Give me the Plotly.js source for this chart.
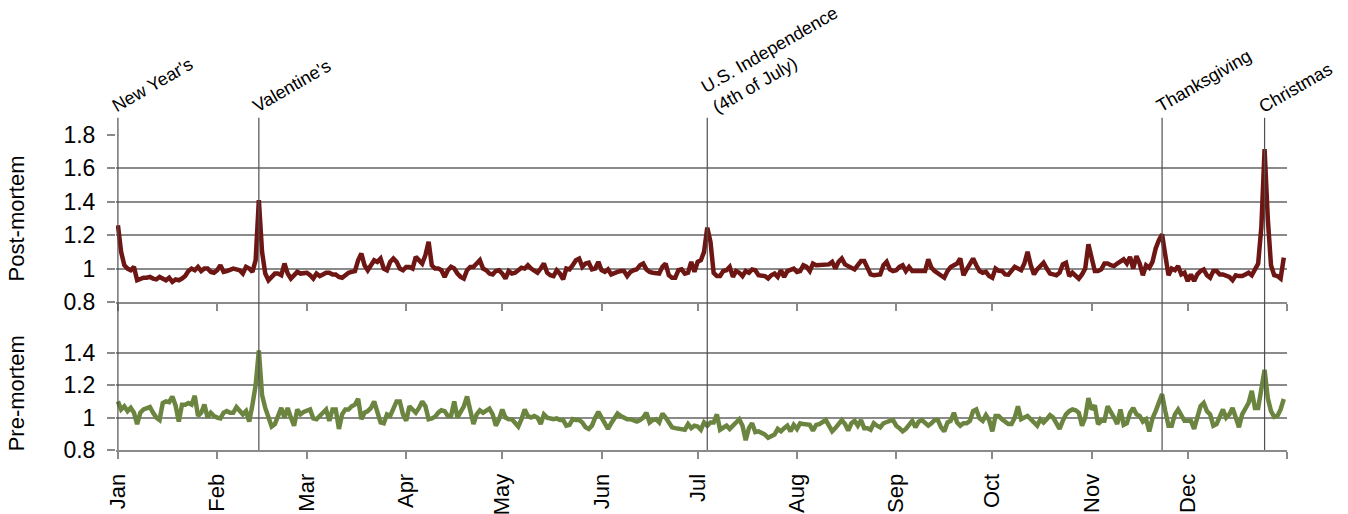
<!DOCTYPE html>
<html>
<head>
<meta charset="utf-8">
<script src="https://cdn.plot.ly/plotly-3.0.1.min.js"></script>
<style>
  html, body { margin: 0; padding: 0; background: #fff; }
  #chart { width: 1348px; height: 514px; }
</style>
</head>
<body>
<div id="chart"></div>
<script>
// ---- Data (daily ratio, day 0 = Jan 1) ----
const postMortem = [
  1.26, 1.10, 1.02, 1.00, 0.99, 1.01, 0.93, 0.94, 0.945, 0.945,
  0.95, 0.94, 0.935, 0.95, 0.94, 0.93, 0.945, 0.92, 0.935, 0.93,
  0.94, 0.955, 0.985, 1.00, 0.99, 1.01, 0.985, 1.00, 1.00, 0.98,
  0.975, 0.99, 1.02, 0.98, 0.985, 0.995, 1.00, 0.995, 0.99, 0.97,
  1.01, 1.00, 0.98, 1.05, 1.41, 1.10, 0.97, 0.93, 0.95, 0.97,
  0.97, 0.96, 1.03, 0.97, 0.94, 0.96, 0.98, 0.97, 0.97, 0.975,
  0.96, 0.94, 0.97, 0.955, 0.965, 0.975, 0.975, 0.965, 0.965, 0.95,
  0.945, 0.96, 0.975, 0.98, 0.985, 1.05, 1.09, 1.02, 0.99, 1.02,
  1.05, 1.04, 1.06, 1.00, 0.99, 1.04, 1.06, 1.04,
  1.00, 0.99, 1.01, 1.01, 1.00, 1.07, 1.05, 1.03, 1.08, 1.16, 1.02, 1.00,
  1.00, 0.99, 0.95, 0.99, 1.01, 1.00, 0.97, 0.95, 0.94, 0.99,
  1.01, 1.01, 1.03, 1.05, 1.00, 0.99, 0.97, 0.965, 0.985, 0.99,
  0.97, 0.94, 0.985, 0.97, 0.975, 0.99, 1.005, 1.00, 1.02, 1.00,
  0.99, 0.975, 1.00, 1.03, 0.975, 0.96, 0.955, 0.99, 0.97, 0.935,
  1.00, 0.995, 1.02, 1.05, 1.06, 1.01, 1.03, 1.035, 0.995, 1.00,
  1.04, 0.99, 0.98, 0.995, 0.965, 0.975, 0.98, 0.985, 0.985, 0.955,
  0.98, 0.99, 0.995, 1.02, 1.03, 0.995, 0.98, 0.975, 0.975, 0.97,
  1.01, 1.03, 0.96, 0.945, 0.945, 0.99, 0.995, 0.97, 0.975, 1.04,
  0.98, 1.04, 1.05, 1.10, 1.245, 1.16,
  0.974, 0.955, 0.955, 0.985,
  0.99, 1.01, 0.95, 0.985, 0.975, 0.955, 0.985, 0.975, 0.995, 0.99,
  0.96, 0.955, 0.955, 0.94, 0.96, 0.97, 0.95, 0.99, 0.95, 0.985,
  0.995, 1.00, 0.98, 0.985, 1.02, 1.01, 0.985, 1.03, 1.02, 1.02,
  1.02, 1.02, 1.025, 1.04, 1.00, 1.04, 1.06, 1.025, 1.015, 1.01,
  0.995, 1.02, 1.045, 1.045, 1.00, 0.965, 0.96, 0.96, 0.965, 1.02,
  1.04, 0.995, 0.985, 0.99, 1.01, 1.02, 0.985, 1.01, 0.985, 0.985,
  0.985, 0.985, 0.985, 1.055, 1.005, 0.985, 0.97, 0.955, 0.945, 0.985,
  1.01, 1.02, 1.03, 1.06, 0.96, 0.995, 1.03, 1.06, 1.02, 0.985,
  0.975, 0.98, 0.955, 0.945, 1.00,
  0.986, 0.985, 0.965, 0.963, 0.99,
  1.01, 1.00, 0.99, 1.03, 1.10, 1.02, 0.965, 0.995, 1.02, 1.035,
  1.00, 0.97, 0.965, 0.96, 0.975, 1.025, 1.035, 0.955, 0.975, 0.96,
  0.94, 0.965, 1.00, 1.145, 1.05, 0.985, 0.985, 0.995, 1.03, 1.03,
  1.02, 1.015, 1.03, 1.04, 1.055, 1.03, 1.07, 1.00, 1.075, 1.03,
  0.96, 1.02, 1.005, 1.04, 1.12, 1.17, 1.205, 1.08, 0.96, 1.00,
  0.99, 1.015, 0.965, 0.975, 0.925, 0.965, 0.925, 0.965, 0.985, 0.995,
  0.96, 0.945, 0.985, 0.985, 0.965, 0.965, 0.955, 0.95, 0.93, 0.96,
  0.955, 0.955, 0.965, 0.975, 0.96, 0.99, 1.03, 1.25, 1.715, 1.30,
  1.02, 0.96, 0.955, 0.94, 1.065
];

const preMortem = [
  1.10, 1.05, 1.07, 1.04, 1.06, 1.03, 0.96, 1.03, 1.05, 1.055,
  1.065, 1.03, 1.00, 0.985, 1.09, 1.10, 1.095, 1.13, 1.075, 0.975,
  1.08, 1.08, 1.09, 1.08, 1.135, 1.01, 1.03, 1.08, 1.00, 1.03,
  1.01, 1.00, 0.995, 1.03, 1.04, 1.03, 1.03, 1.065, 1.04, 1.02,
  1.04, 0.975, 1.08, 1.20, 1.415, 1.14, 1.06, 0.995, 0.945, 0.96,
  1.02, 1.06, 1.00, 1.06, 1.00, 0.95, 1.05, 1.02, 1.035, 1.04,
  1.05, 0.995, 0.99, 1.01, 1.03, 1.05, 0.98, 1.05, 1.05, 0.93,
  1.02, 1.05, 1.05, 1.07, 1.08, 1.115, 0.99, 1.03, 1.04, 1.06,
  1.10, 1.03, 0.97, 0.965, 1.02, 1.01, 1.05, 1.10,
  1.10, 1.02, 0.98, 1.07, 1.05, 1.03, 1.06, 1.10, 1.07, 0.99, 0.995, 1.005,
  1.03, 1.045, 1.04, 1.01, 1.01, 1.10, 1.00, 1.04, 1.07, 1.13,
  1.04, 0.96, 1.02, 1.045, 1.03, 1.045, 1.055, 1.02, 0.95, 0.99,
  1.05, 1.00, 0.99, 0.99, 0.97, 0.945, 0.99, 1.05, 1.01, 1.00,
  1.01, 1.00, 0.96, 1.02, 1.00, 0.995, 0.99, 0.995, 0.985, 0.985,
  0.95, 0.955, 0.99, 0.985, 0.985, 0.97, 0.94, 0.93, 0.95, 1.00,
  1.035, 1.00, 0.97, 0.93, 0.965, 0.99, 1.025, 1.01, 1.00, 0.99,
  0.99, 0.98, 0.975, 0.985, 1.00, 1.03, 0.97, 0.985, 0.99, 0.97,
  1.025, 1.00, 0.97, 0.94, 0.935, 0.93, 0.93, 0.925, 0.96, 0.935,
  0.95, 0.945, 0.925, 0.97, 0.95, 0.97,
  0.97, 1.02, 0.925, 0.94,
  0.95, 0.93, 0.955, 0.97, 0.99, 0.95, 0.86, 0.935, 0.965, 0.91,
  0.915, 0.905, 0.895, 0.875, 0.885, 0.895, 0.93, 0.915, 0.935, 0.95,
  0.915, 0.955, 0.93, 0.965, 0.96, 0.955, 0.955, 0.92, 0.955, 0.96,
  0.97, 0.985, 0.95, 0.915, 0.935, 0.965, 0.985, 0.96, 0.92, 0.965,
  0.98, 0.95, 0.985, 0.935, 0.935, 0.925, 0.965, 0.95, 0.94, 0.965,
  0.975, 0.98, 0.985, 0.95, 0.935, 0.915, 0.93, 0.955, 0.98, 0.94,
  0.975, 0.985, 0.965, 0.95, 0.965, 0.985, 0.985, 0.94, 0.915, 0.97,
  0.98, 1.03, 0.97, 0.95, 0.965, 0.965, 0.98, 1.04, 1.05, 0.995,
  0.98, 1.015, 0.985, 0.915, 1.01,
  1.01, 0.99, 0.975, 0.96, 0.96,
  1.00, 1.07, 0.99, 1.00, 1.01, 0.99, 0.97, 0.95, 0.99, 0.97,
  0.99, 1.015, 1.00, 0.96, 0.93, 0.98, 1.02, 1.04, 1.05, 1.045,
  1.03, 0.95, 1.00, 1.12, 1.05, 1.075, 0.96, 0.98, 0.98, 1.07,
  1.04, 1.00, 0.96, 1.05, 0.955, 0.965, 1.03, 1.06, 1.02, 1.01,
  0.975, 0.99, 0.915, 0.995, 1.04, 1.10, 1.145, 1.04, 0.95, 0.95,
  1.02, 1.05, 1.02, 0.98, 0.98, 0.98, 0.93, 1.01, 1.07, 1.09,
  1.04, 1.02, 0.95, 0.96, 1.01, 1.05, 1.00, 1.02, 1.06, 0.99,
  0.94, 1.02, 1.05, 1.09, 1.165, 1.06, 1.06, 1.18, 1.295, 1.12,
  1.04, 1.005, 1.01, 1.05, 1.115
];

const monthLabels = ['Jan','Feb','Mar','Apr','May','Jun','Jul','Aug','Sep','Oct','Nov','Dec',''];
const monthStartDays = [0, 31, 59, 90, 120, 151, 181, 212, 243, 273, 304, 334, 365];

const holidayNames = ["New Year's", "Valentine's", "U.S. Independence<br>(4th of July)", "Thanksgiving", "Christmas"];
const holidayDays = [0, 44, 184, 326, 358];

const postTicks = [0.8, 1, 1.2, 1.4, 1.6, 1.8];
const preTicks = [0.8, 1, 1.2, 1.4];

// ---- Build chart ----
const days = postMortem.map((v, i) => i);
const FONT = 'Liberation Sans, Arial, sans-serif';
const GRID = '#8a8a8a';
const VLINE = '#505050';

const traces = [
  { x: days, y: postMortem, xaxis: 'x', yaxis: 'y', type: 'scatter', mode: 'lines',
    line: { color: '#6e1613', width: 4.5 }, hoverinfo: 'skip', showlegend: false },
  { x: days, y: preMortem, xaxis: 'x2', yaxis: 'y2', type: 'scatter', mode: 'lines',
    line: { color: '#6b8540', width: 4.5 }, hoverinfo: 'skip', showlegend: false }
];

const xCommon = {
  range: [-0.6, 365], tickmode: 'array', tickvals: monthStartDays,
  ticks: 'outside', ticklen: 7, tickwidth: 2, tickcolor: GRID,
  showgrid: false, zeroline: false, showline: true, linecolor: GRID, linewidth: 2,
  fixedrange: true
};

const yCommon = {
  ticks: 'outside', ticklen: 8, tickwidth: 2, tickcolor: GRID,
  showgrid: true, gridcolor: GRID, gridwidth: 2, zeroline: false, showline: false,
  tickfont: { family: FONT, size: 23, color: '#000' }, ticklabelstandoff: 7,
  tickmode: 'array', fixedrange: true
};

const shapes = holidayDays.map(d => ({
  type: 'line', xref: 'x', yref: 'paper', x0: d, x1: d, y0: 0, y1: 1.055,
  line: { color: VLINE, width: 1.2 }, layer: 'above'
}));

const annotations = holidayNames.map((name, k) => ({
  xref: 'x', yref: 'paper', x: holidayDays[k], y: 1.05,
  text: name, showarrow: false, textangle: -30, align: 'left',
  xanchor: 'left', yanchor: 'bottom', xshift: -12,
  font: { family: FONT, size: 18, color: '#000' }
}));

const layout = {
  width: 1348, height: 514,
  margin: { l: 116, r: 61, t: 135, b: 64 },
  paper_bgcolor: '#fff', plot_bgcolor: 'rgba(0,0,0,0)',
  showlegend: false,
  xaxis: Object.assign({}, xCommon, { anchor: 'y', showticklabels: false }),
  xaxis2: Object.assign({}, xCommon, { anchor: 'y2', matches: 'x', ticktext: monthLabels,
    tickangle: -90, ticklabelstandoff: 6, tickfont: { family: FONT, size: 22, color: '#000' } }),
  yaxis: Object.assign({}, yCommon, { domain: [0.47, 1], range: [0.8, 1.8], tickvals: postTicks,
    title: { text: 'Post-mortem', font: { family: FONT, size: 22, color: '#000' }, standoff: 32 } }),
  yaxis2: Object.assign({}, yCommon, { domain: [0, 0.36], range: [0.8, 1.5], tickvals: preTicks,
    title: { text: 'Pre-mortem', font: { family: FONT, size: 22, color: '#000' }, standoff: 32 } }),
  shapes: shapes,
  annotations: annotations
};

Plotly.newPlot('chart', traces, layout, { staticPlot: true, displayModeBar: false });
</script>
</body>
</html>
